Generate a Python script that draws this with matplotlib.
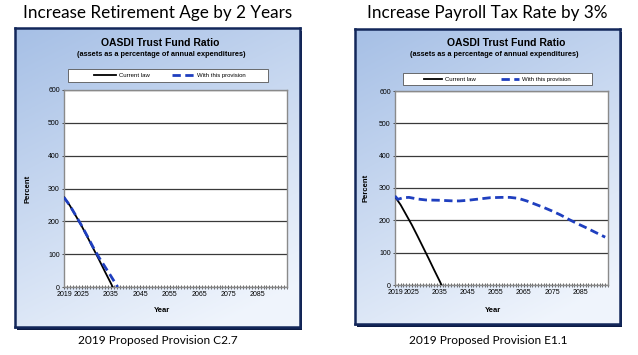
import numpy as np
import matplotlib
matplotlib.use('Agg')
import matplotlib.pyplot as plt
from matplotlib.patches import Rectangle
from matplotlib.lines import Line2D
from matplotlib.ticker import MultipleLocator, FixedLocator

W, H = 638, 355

# data
cur_years = [2019, 2021, 2023, 2025, 2027, 2029, 2031, 2033, 2035, 2035.6]
cur_ratio = [273, 248, 217, 186, 152, 117, 82, 46, 11, 0]

age_years = [2019, 2021, 2023, 2025, 2027, 2029, 2031, 2033, 2035, 2037.3]
age_ratio = [273, 248, 218, 187, 154, 120, 89, 61, 33, 0]

tax_years = [2019, 2020, 2022, 2024, 2027, 2030, 2035, 2040, 2042, 2045, 2050, 2053,
             2057, 2060, 2063, 2066, 2069, 2072, 2075, 2078, 2081, 2084, 2087, 2090, 2094]
tax_ratio = [275, 265, 270, 271, 266, 263, 262, 260, 260, 262, 267, 270,
             271, 271, 268, 260, 250, 240, 229, 217, 203, 190, 178, 165, 148]

x_ticks = [2019, 2025, 2035, 2045, 2055, 2065, 2075, 2085]
y_ticks = [0, 100, 200, 300, 400, 500, 600]

panel_titles = ['Increase Retirement Age by 2 Years', 'Increase Payroll Tax Rate by 3%']
captions = ['2019 Proposed Provision C2.7', '2019 Proposed Provision E1.1']
legend_labels = ['Current law', 'With this provision']


def rect(x0, y0, x1, y1):
    return [x0 / W, 1 - y1 / H, (x1 - x0) / W, (y1 - y0) / H]


fig = plt.figure(figsize=(W / 100, H / 100), dpi=100)
fig.patch.set_facecolor('white')

# gradient for the panel backgrounds
gx, gy = np.meshgrid(np.linspace(0, 1, 200), np.linspace(0, 1, 200))
t = np.clip(0.75 * gy + 0.35 * gx, 0, 1)
c0 = np.array([0.65, 0.75, 0.90])
c1 = np.array([0.94, 0.96, 0.99])
grad = c0[None, None, :] * (1 - t[..., None]) + c1[None, None, :] * t[..., None]

panels = [
    dict(box=(15, 28, 300, 327), plot=(64, 90, 287, 287), title_x=158, cap_x=158,
         head_x=160, sub_x=161, leg=(68, 69, 268, 82), leg_c=(170, 75.5), hl=3.7,
         cs=3.8, year_x=162, pct_x=28, years=age_years, ratio=age_ratio),
    dict(box=(355, 29, 620, 324), plot=(395, 91, 608, 285), title_x=487, cap_x=488,
         head_x=506, sub_x=494, leg=(403, 73, 592, 85), leg_c=(497, 79), hl=3.0,
         cs=4.2, year_x=493, pct_x=366, years=tax_years, ratio=tax_ratio),
]

for i, p in enumerate(panels):
    x0, y0, x1, y1 = p['box']
    # shadow
    fig.add_artist(Rectangle((x0 / W + 2 / W, 1 - (y1 + 3) / H), (x1 - x0) / W, (y1 - y0) / H,
                             transform=fig.transFigure, facecolor='#0b1a45',
                             edgecolor='none', zorder=-1))
    bg = fig.add_axes(rect(x0, y0, x1, y1))
    bg.imshow(grad, extent=[0, 1, 0, 1], aspect='auto')
    bg.set_xticks([])
    bg.set_yticks([])
    for s in bg.spines.values():
        s.set_color('#13275a')
        s.set_linewidth(1.8)

    # legend frame
    lx0, ly0, lx1, ly1 = p['leg']
    bg.add_artist(Rectangle((lx0 / W, 1 - ly1 / H), (lx1 - lx0) / W, (ly1 - ly0) / H,
                            transform=fig.transFigure, facecolor='white',
                            edgecolor='#555555', lw=0.6, zorder=5))

    ax = fig.add_axes(rect(*p['plot']))
    ax.set_facecolor('white')
    ax.plot(cur_years, cur_ratio, color='black', lw=1.3, zorder=3)
    ax.plot(p['years'], p['ratio'], color='#1f3fbf', lw=2, dashes=(3, 1.6), zorder=4)
    ax.set_xlim(2019, 2095)
    ax.set_ylim(0, 600)
    ax.yaxis.set_major_locator(FixedLocator(y_ticks))
    ax.xaxis.set_major_locator(FixedLocator(x_ticks))
    ax.xaxis.set_minor_locator(MultipleLocator(1))
    ax.grid(axis='y', color='#3a3a3a', lw=0.9)
    ax.set_axisbelow(True)
    for s in ax.spines.values():
        s.set_color('#8a8a8a')
        s.set_linewidth(1)
    ax.tick_params(axis='both', which='major', labelsize=5, length=3, width=0.6,
                   direction='inout', pad=1.5, colors='#333333', labelcolor='black')
    ax.tick_params(axis='x', which='minor', length=2.5, width=0.5, direction='inout',
                   colors='#333333')
    for lab in ax.get_xticklabels() + ax.get_yticklabels():
        lab.set_family('Liberation Sans')

    fig.text(p['pct_x'] / W, 1 - (p['plot'][1] + p['plot'][3]) / 2 / H, 'Percent',
             rotation=90, ha='center', va='center', fontsize=5.5, fontweight='bold',
             family='Liberation Sans')
    fig.text(p['year_x'] / W, 1 - 311 / H, 'Year', ha='center', va='center',
             fontsize=5.5, fontweight='bold', family='Liberation Sans')

    fig.text(p['head_x'] / W, 1 - 43 / H, 'OASDI Trust Fund Ratio', ha='center',
             va='center', fontsize=7.5, fontweight='bold', family='Liberation Sans')
    fig.text(p['sub_x'] / W, 1 - 54 / H, '(assets as a percentage of annual expenditures)',
             ha='center', va='center', fontsize=5.3, fontweight='bold',
             family='Liberation Sans')

    handles = [Line2D([], [], color='black', lw=1.3),
               Line2D([], [], color='#1f3fbf', lw=2, dashes=(3, 1.6))]
    leg = ax.legend(handles, legend_labels, loc='center', ncol=2,
                    bbox_to_anchor=(p['leg_c'][0] / W, 1 - p['leg_c'][1] / H),
                    bbox_transform=fig.transFigure, frameon=False,
                    handlelength=p['hl'], borderpad=0.2, handletextpad=0.5,
                    columnspacing=p['cs'], prop={'family': 'Liberation Sans', 'size': 4.3})
    leg.set_zorder(6)

    fig.text(p['title_x'] / W, 1 - 13 / H, panel_titles[i], ha='center', va='center',
             fontsize=12.3, family='Lato')
    fig.text(p['cap_x'] / W, 1 - 341 / H, captions[i], ha='center', va='center',
             fontsize=8.6, family='Lato')

fig.savefig('out.png', dpi=100)
